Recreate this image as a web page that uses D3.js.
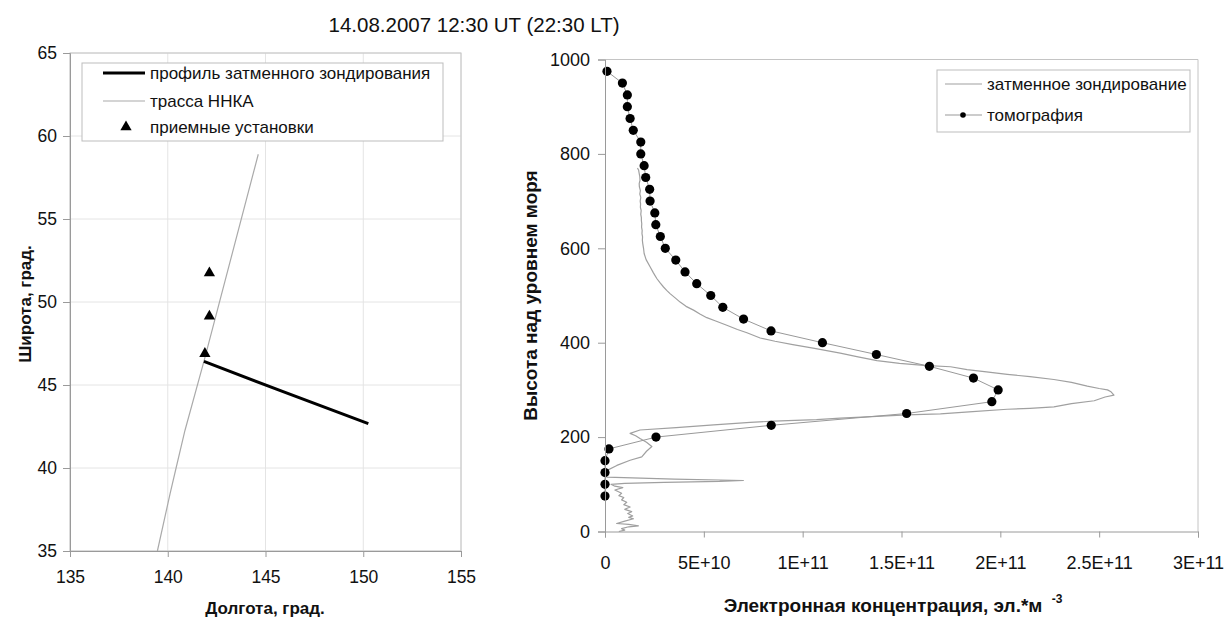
<!DOCTYPE html>
<html>
<head>
<meta charset="utf-8">
<script src="https://cdn.jsdelivr.net/npm/d3@7"></script>
<style>
body { margin: 0; background: #fff; }
svg { display: block; }
text { font-family: "Liberation Sans", Arial, sans-serif; fill: #111; }
</style>
</head>
<body>
<svg id="chart" width="1228" height="617"></svg>
<script>
// Data ------------------------------------------------------------------------------------

const title = "14.08.2007 12:30 UT (22:30 LT)";

// left chart: map
const lonTicks = [135, 140, 145, 150, 155];
const latTicks = [35, 40, 45, 50, 55, 60, 65];

const trackLon = [139.47, 140.12, 140.42, 140.88, 141.85, 144.63];
const trackLat = [35, 38.46, 39.97, 42.26, 46.42, 58.9];

const profileLon = [141.85, 145.9, 150.26];
const profileLat = [46.42, 44.6, 42.67];

const stationLon = [141.9, 142.13, 142.13];
const stationLat = [46.89, 49.14, 51.75];

const leftLegend = ["профиль затменного зондирования", "трасса ННКА", "приемные установки"];

// right chart: profiles, Ne in units of 1E+10
const neTicks = [0, 5, 10, 15, 20, 25, 30];
const neTickLabels = ["0", "5E+10", "1E+11", "1.5E+11", "2E+11", "2.5E+11", "3E+11"];
const hTicks = [0, 200, 400, 600, 800, 1000];

const tomoH = [975, 950, 925, 900, 875, 850, 825, 800, 775, 750, 725, 700, 675, 650, 625, 600,
    575, 550, 525, 500, 475, 450, 425, 400, 375, 350, 325, 300, 275, 250, 225, 200, 175, 150, 125, 100, 75];
const tomoNe = [0.1, 0.88, 1.13, 1.13, 1.27, 1.43, 1.81, 1.81, 1.98, 2.06, 2.26, 2.28, 2.52, 2.57, 2.8, 3.05,
    3.58, 4.05, 4.64, 5.35, 5.96, 7.01, 8.4, 11.0, 13.73, 16.41, 18.64, 19.89, 19.57, 15.26, 8.41, 2.58, 0.2, 0, 0, 0, 0];

const eclNe = [1.64, 1.70, 1.72, 1.76, 1.77, 1.73, 1.74, 1.79, 1.76, 1.81, 1.78, 1.80, 1.79, 1.83, 1.81, 1.84,
    1.84, 1.86, 1.85, 1.88, 1.87, 1.90, 1.89, 1.91, 1.95, 1.98, 2.08, 2.28, 2.45, 2.62, 2.80, 2.96,
    3.12, 3.29, 3.55, 3.80, 4.10, 4.48, 4.80, 5.15, 5.60, 6.16, 6.70, 7.18, 7.85,
    8.6, 9.5, 10.6, 11.9, 12.8, 13.76, 14.9, 16.13, 17.48, 18.32, 19.3, 20.35, 21.5, 22.71, 23.6,
    24.4, 25.0, 25.42, 25.6, 25.75, 25.3, 24.75, 23.6, 22.71, 21.5, 20.35, 18.6, 16.97, 15.26,
    13.76, 11.9, 10.7, 8.53, 7.35, 5.5, 3.6, 1.77, 1.27, 1.55, 1.77, 2.1, 2.37, 2.1, 1.86, 1.27,
    0.6, 0.08, 0.02, 0.1, 3.5, 7.0, 5.8, 3.0, 1.0, 0.3, 0.5, 0.9, 0.5, 0.84, 0.7, 0.95, 0.84,
    1.1, 0.95, 1.27, 1.0, 1.35, 1.15, 1.4, 1.2, 1.44, 1.0, 0.59, 1.2, 1.69, 1.2, 0.84, 1.0, 0.7];
const eclH = [770, 766, 761, 752, 744, 737, 730, 722, 715, 708, 700, 694, 687, 680, 672, 665,
    659, 652, 645, 638, 631, 624, 617, 610, 600, 589, 576, 561, 548, 536, 526, 518,
    511, 504, 495, 486, 477, 469, 461, 453, 446, 437, 428, 421, 410,
    403, 396, 388, 378, 370, 362, 356, 352, 349, 343, 338, 333, 328, 322, 316,
    308, 303, 300, 296, 289, 285, 277, 271, 264, 261, 259, 254, 249, 247,
    244, 240, 237, 234, 231, 226, 220, 215, 208, 203, 197, 189, 180, 170, 158, 151,
    140, 129, 120, 115, 111, 108, 106, 104, 102, 100, 96, 93, 88, 81, 76, 72, 67,
    62, 57, 52, 47, 42, 38, 33, 30, 27, 22, 17, 15, 12, 10, 6, 3, 0];

const rightLegend = ["затменное зондирование", "томография"];

// Setup -----------------------------------------------------------------------------------

const svg = d3.select("#chart");

svg.append("text")
    .attr("x", 474).attr("y", 32)
    .attr("text-anchor", "middle")
    .style("font-size", "20.5px")
    .text(title);

function styleAxis(g, size) {
    g.select(".domain").attr("stroke", "#9a9a9a");
    g.selectAll(".tick line").attr("stroke", "#9a9a9a");
    g.selectAll(".tick text")
        .style("font-size", size + "px")
        .style("font-family", '"Liberation Sans", Arial, sans-serif')
        .attr("fill", "#111");
}

// Left chart: map -------------------------------------------------------------------------

const xL = d3.scaleLinear().domain([135, 155]).range([70, 461]);
const yL = d3.scaleLinear().domain([35, 65]).range([551, 53]);

const left = svg.append("g");

left.append("g").selectAll("line.v")
    .data(lonTicks)
    .enter().append("line")
    .attr("x1", d => xL(d)).attr("x2", d => xL(d))
    .attr("y1", yL(35)).attr("y2", yL(65))
    .attr("stroke", "#e4e4e4");

left.append("g").selectAll("line.h")
    .data(latTicks)
    .enter().append("line")
    .attr("x1", xL(135)).attr("x2", xL(155))
    .attr("y1", d => yL(d)).attr("y2", d => yL(d))
    .attr("stroke", "#e4e4e4");

left.append("rect")
    .attr("x", xL(135)).attr("y", yL(65))
    .attr("width", xL(155) - xL(135)).attr("height", yL(35) - yL(65))
    .attr("fill", "none").attr("stroke", "#c4c4c4");

const track = trackLon.map((d, i) => [d, trackLat[i]]);
const profile = profileLon.map((d, i) => [d, profileLat[i]]);
const stations = stationLon.map((d, i) => [d, stationLat[i]]);

const lineL = d3.line().x(d => xL(d[0])).y(d => yL(d[1]));

left.append("path")
    .attr("d", lineL(track))
    .attr("fill", "none").attr("stroke", "#aaaaaa").attr("stroke-width", 1.2);

left.append("path")
    .attr("d", lineL(profile))
    .attr("fill", "none").attr("stroke", "#000").attr("stroke-width", 3);

const tri = d3.symbol().type(d3.symbolTriangle).size(55);

left.append("g").selectAll("path")
    .data(stations)
    .enter().append("path")
    .attr("d", tri)
    .attr("transform", d => "translate(" + xL(d[0]) + "," + yL(d[1]) + ")")
    .attr("fill", "#000");

left.append("g")
    .attr("transform", "translate(0," + yL(35) + ")")
    .call(d3.axisBottom(xL).tickValues(lonTicks).tickSize(6).tickPadding(14).tickFormat(d3.format("d")))
    .call(g => styleAxis(g, 17.5));

left.append("g")
    .attr("transform", "translate(" + xL(135) + ",0)")
    .call(d3.axisLeft(yL).tickValues(latTicks).tickSize(7).tickPadding(6).tickFormat(d3.format("d")))
    .call(g => styleAxis(g, 17.5));

left.append("text")
    .attr("x", 265).attr("y", 614)
    .attr("text-anchor", "middle")
    .style("font-size", "17px").style("font-weight", "bold")
    .text("Долгота, град.");

left.append("text")
    .attr("transform", "translate(31,304) rotate(-90)")
    .attr("text-anchor", "middle")
    .style("font-size", "17px").style("font-weight", "bold")
    .text("Широта, град.");

// legend
const legL = left.append("g");
legL.append("rect")
    .attr("x", 82).attr("y", 63).attr("width", 361).attr("height", 78)
    .attr("fill", "#fff").attr("stroke", "#bdbdbd");
legL.append("line")
    .attr("x1", 103).attr("x2", 145).attr("y1", 73).attr("y2", 73)
    .attr("stroke", "#000").attr("stroke-width", 3);
legL.append("line")
    .attr("x1", 103).attr("x2", 145).attr("y1", 101).attr("y2", 101)
    .attr("stroke", "#aaaaaa").attr("stroke-width", 1.2);
legL.append("path")
    .attr("d", tri)
    .attr("transform", "translate(126,127)")
    .attr("fill", "#000");
legL.selectAll("text")
    .data(leftLegend)
    .enter().append("text")
    .attr("x", 150).attr("y", (d, i) => [73, 101, 127][i] + 6)
    .style("font-size", "17px")
    .text(d => d);

// Right chart: electron density profiles -------------------------------------------------

const xR = d3.scaleLinear().domain([0, 30]).range([605, 1198]);
const yR = d3.scaleLinear().domain([0, 1000]).range([531.5, 59.5]);

const right = svg.append("g");

right.append("path")
    .attr("d", "M" + xR(0) + "," + yR(1000) + "H" + xR(30) + "V" + yR(0))
    .attr("fill", "none").attr("stroke", "#c4c4c4");

const ecl = eclNe.map((d, i) => [d, eclH[i]]);
const tomo = tomoNe.map((d, i) => [d, tomoH[i]]);

const lineR = d3.line().x(d => xR(d[0])).y(d => yR(d[1]));

right.append("path")
    .attr("d", lineR(ecl))
    .attr("fill", "none").attr("stroke", "#a0a0a0").attr("stroke-width", 1.2)
    .attr("stroke-linejoin", "round");

right.append("path")
    .attr("d", lineR(tomo))
    .attr("fill", "none").attr("stroke", "#999").attr("stroke-width", 1);

right.append("g").selectAll("circle")
    .data(tomo)
    .enter().append("circle")
    .attr("cx", d => xR(d[0]))
    .attr("cy", d => yR(d[1]))
    .attr("r", 4.6)
    .attr("fill", "#000");

right.append("g")
    .attr("transform", "translate(0," + yR(0) + ")")
    .call(d3.axisBottom(xR).tickValues(neTicks).tickSize(6).tickPadding(19).tickFormat((d, i) => neTickLabels[i]))
    .call(g => styleAxis(g, 18));

right.append("g")
    .attr("transform", "translate(" + xR(0) + ",0)")
    .call(d3.axisLeft(yR).tickValues(hTicks).tickSize(7).tickPadding(8).tickFormat(d3.format("d")))
    .call(g => styleAxis(g, 18));

const xTitle = right.append("text")
    .attr("x", 893).attr("y", 612)
    .attr("text-anchor", "middle")
    .style("font-size", "19px").style("font-weight", "bold");
xTitle.append("tspan").text("Электронная концентрация, эл.*м ");
xTitle.append("tspan")
    .attr("dx", 4).attr("dy", -9)
    .style("font-size", "12px")
    .text("-3");

right.append("text")
    .attr("transform", "translate(537,295.5) rotate(-90)")
    .attr("text-anchor", "middle")
    .style("font-size", "19px").style("font-weight", "bold")
    .text("Высота над уровнем моря");

// legend
const legR = right.append("g");
legR.append("rect")
    .attr("x", 937).attr("y", 70).attr("width", 253).attr("height", 62)
    .attr("fill", "#fff").attr("stroke", "#bdbdbd");
legR.append("line")
    .attr("x1", 945).attr("x2", 982).attr("y1", 84).attr("y2", 84)
    .attr("stroke", "#a0a0a0").attr("stroke-width", 1.2);
legR.append("line")
    .attr("x1", 945).attr("x2", 982).attr("y1", 115).attr("y2", 115)
    .attr("stroke", "#999").attr("stroke-width", 1);
legR.append("circle")
    .attr("cx", 963).attr("cy", 115).attr("r", 2.8)
    .attr("fill", "#000");
legR.selectAll("text")
    .data(rightLegend)
    .enter().append("text")
    .attr("x", 987).attr("y", (d, i) => [84, 115][i] + 6)
    .style("font-size", "17px")
    .text(d => d);
</script>
</body>
</html>
